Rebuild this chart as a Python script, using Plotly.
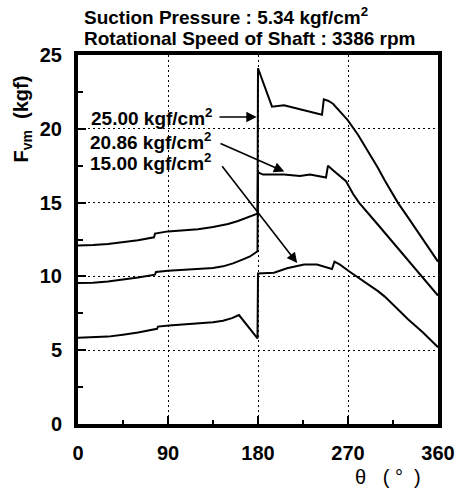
import plotly.graph_objects as go

# Crank angle theta (deg) and F_vm (kgf) for three discharge pressures
theta_25 = [0, 15, 30, 45, 60, 76, 77, 90, 105, 120, 135, 150, 160, 170, 179.5, 180, 194, 206, 218, 230, 244,
            245.8, 250, 255, 262, 269.5, 280, 290, 300, 306.8, 319.8, 330, 345, 360]
fvm_25 = [12.1, 12.12, 12.2, 12.3, 12.45, 12.65, 12.9, 13.05, 13.12, 13.2, 13.35, 13.55, 13.75, 14.0, 14.25,
          24.1, 21.5, 21.6, 21.4, 21.2, 20.95, 22.0, 21.9, 21.7, 21.2, 20.6, 19.6, 18.5, 17.35, 16.5, 15.0,
          14.0, 12.5, 11.0]

theta_2086 = [0, 15, 30, 45, 60, 77, 78, 90, 105, 120, 135, 145, 155, 165, 172, 179.5, 180, 185, 206, 222,
              232, 248, 250, 255, 262, 268, 275, 281, 300, 320, 340, 360]
fvm_2086 = [9.55, 9.57, 9.65, 9.78, 9.92, 10.12, 10.3, 10.38, 10.43, 10.48, 10.57, 10.68, 10.88, 11.15, 11.35,
            11.7, 17.05, 16.9, 16.9, 16.8, 16.9, 16.7, 17.5, 17.2, 16.8, 16.45, 15.6, 15.0, 13.5, 11.9, 10.3, 8.7]

theta_15 = [0, 15, 30, 45, 60, 79, 80, 91, 105, 120, 135, 145, 154, 161, 179.5, 180, 196, 209, 218, 226, 239,
            254, 256.5, 262, 271, 280, 290, 300, 306.8, 320, 330, 345, 360]
fvm_15 = [5.85, 5.87, 5.92, 6.05, 6.2, 6.45, 6.6, 6.68, 6.74, 6.8, 6.9, 7.0, 7.17, 7.38, 5.8, 10.2, 10.25,
          10.55, 10.7, 10.8, 10.8, 10.5, 11.0, 10.8, 10.35, 9.95, 9.5, 9.0, 8.63, 7.75, 7.1, 6.2, 5.2]

series_labels = ["25.00 kgf/cm<sup>2</sup>", "20.86 kgf/cm<sup>2</sup>", "15.00 kgf/cm<sup>2</sup>"]
x_ticks = [0, 90, 180, 270, 360]
y_ticks = [0, 5, 10, 15, 20, 25]

FONT = "Arial"
fig = go.Figure()
for xs, ys in [(theta_25, fvm_25), (theta_2086, fvm_2086), (theta_15, fvm_15)]:
    fig.add_trace(go.Scatter(x=xs, y=ys, mode="lines", line=dict(color="black", width=2), showlegend=False))

axis_common = dict(
    showline=True, linewidth=4, linecolor="black", mirror=True,
    showgrid=True, gridcolor="black", griddash="1.5px,3.5px", gridwidth=1.3,
    zeroline=False, ticks="inside", ticklen=8, tickwidth=1.5, tickcolor="black",
    tickfont=dict(family=FONT, size=20, color="black", weight="bold"),
    ticklabelstandoff=8,
)
fig.update_xaxes(range=[0, 360], tickvals=x_ticks,
                 minor=dict(tickvals=[45, 135, 225, 315], ticks="inside", ticklen=4, tickwidth=1.5,
                            tickcolor="black", showgrid=False), **axis_common)
fig.update_yaxes(range=[0, 25], tickvals=y_ticks,
                 minor=dict(dtick=2.5, ticks="inside", ticklen=5, tickwidth=1.5,
                            tickcolor="black", showgrid=False), **axis_common)

L, R, T, B = 78, 19, 55, 68
W, H = 467, 492
pw, ph = W - L - R, H - T - B

def px(x):
    return (x - L) / pw

def py(y):
    return (H - B - y) / ph

anns = []
tf = dict(family=FONT, size=19, color="black", weight="bold")
anns.append(dict(xref="paper", yref="paper", x=px(82), y=py(16.5), xanchor="left", yanchor="middle",
                 text="Suction Pressure : 5.34 kgf/cm<sup>2</sup>", showarrow=False, font=tf))
anns.append(dict(xref="paper", yref="paper", x=px(82), y=py(38), xanchor="left", yanchor="middle",
                 text="Rotational Speed of Shaft : 3386 rpm", showarrow=False, font=tf))
anns.append(dict(xref="paper", yref="paper", x=px(20), y=py(119), xanchor="center", yanchor="middle",
                 text="F<sub>vm</sub>  (kgf)", textangle=-90, showarrow=False,
                 font=dict(family=FONT, size=20, color="black", weight="bold")))
anns.append(dict(xref="paper", yref="paper", x=px(397), y=py(477), xanchor="center", yanchor="middle",
                 text="θ&nbsp;&nbsp;&nbsp;(&nbsp;°&nbsp;&nbsp;)", showarrow=False,
                 font=dict(family=FONT, size=20, color="black")))

label_pos = [(136, 20.8), (135, 19.14), (135, 17.78)]
for (lx, ly), t in zip(label_pos, series_labels):
    anns.append(dict(xref="x", yref="y", x=lx, y=ly, xanchor="right", yanchor="middle", text=t,
                     showarrow=False, font=tf))

arrows = [((140, 20.8), (178.7, 20.8)), ((141, 19.05), (206.3, 17.1)), ((143, 17.56), (219.2, 10.9))]
for (tx, ty), (hx, hy) in arrows:
    anns.append(dict(xref="x", yref="y", axref="x", ayref="y", x=hx, y=hy, ax=tx, ay=ty, text="",
                     showarrow=True, arrowhead=2, arrowsize=1.3, arrowwidth=1.6, arrowcolor="black", standoff=0))

fig.update_layout(width=W, height=H, margin=dict(l=L, r=R, t=T, b=B),
                  plot_bgcolor="white", paper_bgcolor="white",
                  font=dict(family=FONT, color="black"), annotations=anns)
fig.write_html("out.html")
